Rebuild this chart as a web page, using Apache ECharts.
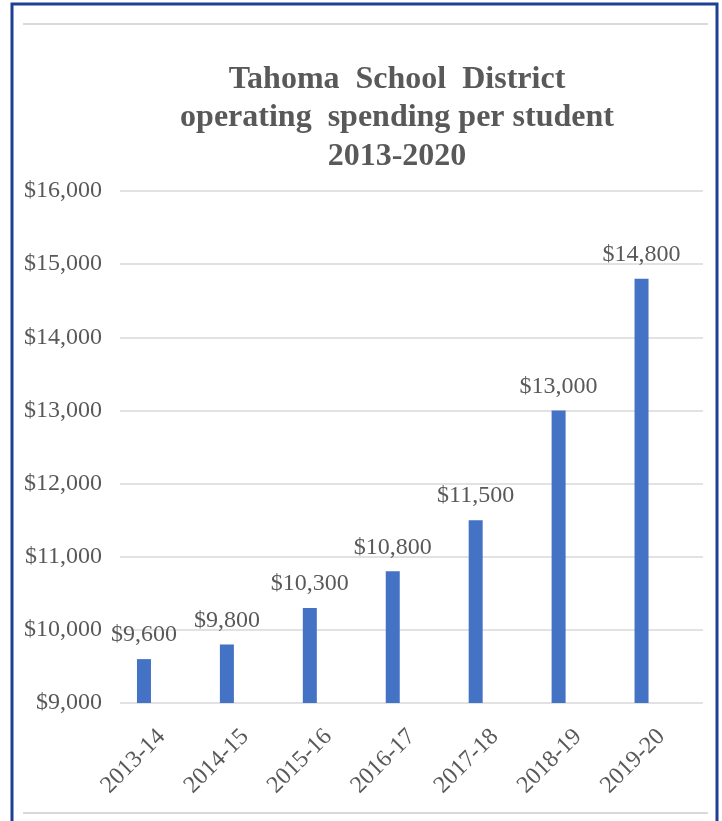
<!DOCTYPE html>
<html>
<head>
<meta charset="utf-8">
<script src="https://cdn.jsdelivr.net/npm/echarts@6/dist/echarts.min.js"></script>
<style>
  html, body { margin: 0; padding: 0; background: #ffffff; }
  #chart { width: 722px; height: 821px; }
</style>
</head>
<body>
<div id="chart"></div>
<script>
const titleLines = ['Tahoma  School  District', 'operating  spending per student', '2013-2020'];
const categories = ['2013-14', '2014-15', '2015-16', '2016-17', '2017-18', '2018-19', '2019-20'];
const spending = [9600, 9800, 10300, 10800, 11500, 13000, 14800];
const yMin = 9000;
const yMax = 16000;
const yStep = 1000;

function money(v) {
  return '$' + Number(v).toLocaleString('en-US');
}

const chart = echarts.init(document.getElementById('chart'), null, { renderer: 'canvas' });
const serif = '"Liberation Serif", "DejaVu Serif", serif';
const grey = '#595959';

chart.setOption({
  animation: false,
  backgroundColor: '#ffffff',
  title: {
    text: titleLines.join('\n'),
    left: 397,
    top: 60,
    textAlign: 'center',
    padding: 0,
    textStyle: {
      fontFamily: serif,
      fontWeight: 'bold',
      fontSize: 32,
      lineHeight: 38.5,
      color: grey
    }
  },
  graphic: [
    { type: 'rect', shape: { x: 12, y: 4, width: 705, height: 830 }, style: { fill: 'none', stroke: '#1f3e96', lineWidth: 3 }, silent: true },
    { type: 'line', shape: { x1: 23, y1: 24, x2: 708, y2: 24 }, style: { stroke: '#d9d9d9', lineWidth: 2 }, silent: true },
    { type: 'line', shape: { x1: 23, y1: 813, x2: 708, y2: 813 }, style: { stroke: '#d9d9d9', lineWidth: 2 }, silent: true }
  ],
  grid: [
    { left: 120, right: 19, top: 191, bottom: 118 },
    { left: 102.5, right: 39, top: 191, bottom: 118 }
  ],
  xAxis: [
    {
      type: 'category',
      gridIndex: 0,
      data: categories,
      axisLine: { show: false },
      axisTick: { show: false },
      axisLabel: {
        rotate: 45,
        margin: 30,
        fontFamily: serif,
        fontSize: 24,
        color: grey
      }
    },
    {
      type: 'category',
      gridIndex: 1,
      data: categories,
      axisLine: { show: false },
      axisTick: { show: false },
      axisLabel: { show: false }
    }
  ],
  yAxis: [
    {
      type: 'value',
      gridIndex: 0,
      min: yMin,
      max: yMax,
      interval: yStep,
      axisLine: { show: false },
      axisTick: { show: false },
      axisLabel: {
        margin: 18,
        formatter: money,
        fontFamily: serif,
        fontSize: 24,
        color: grey
      },
      splitLine: { show: true, lineStyle: { color: '#d9d9d9', width: 1.5 } }
    },
    {
      type: 'value',
      gridIndex: 1,
      min: yMin,
      max: yMax,
      interval: yStep,
      show: false,
      splitLine: { show: false }
    }
  ],
  series: [
    {
      type: 'bar',
      xAxisIndex: 1,
      yAxisIndex: 1,
      data: spending,
      barWidth: 14,
      itemStyle: { color: '#4472c4' },
      label: {
        show: true,
        position: 'top',
        distance: 12,
        formatter: p => money(p.value),
        fontFamily: serif,
        fontSize: 24,
        color: grey
      }
    }
  ]
});
</script>
</body>
</html>
